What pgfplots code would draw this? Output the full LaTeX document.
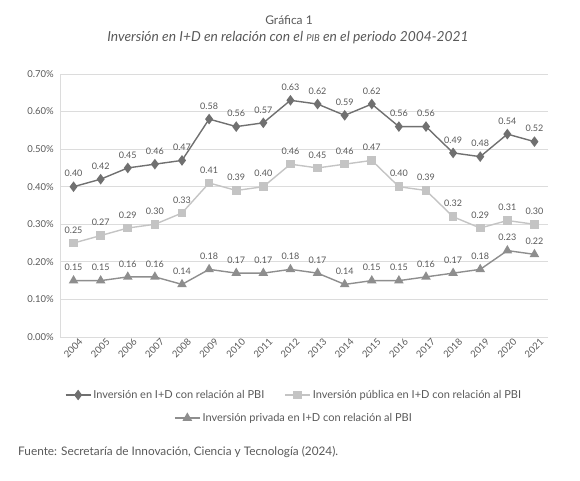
\documentclass[border=0pt]{standalone}
\usepackage{pgfplots}
\pgfplotsset{compat=1.18}
\usepackage{fontspec}
\setmainfont{Lato}
\definecolor{cTot}{HTML}{707070}
\definecolor{cPub}{HTML}{C4C4C4}
\definecolor{cPri}{HTML}{8E8E8E}
\definecolor{cTxt}{HTML}{595959}
\definecolor{cGrid}{HTML}{DCDCDC}
\begin{document}
\begin{tikzpicture}
\useasboundingbox (0,0) rectangle (580pt,481pt);
\node[font=\fontsize{12}{14}\selectfont, text=cTxt] at (289pt,461pt) {Gráfica 1};
\node[font=\fontsize{13.8}{15}\selectfont\itshape, text=cTxt] at (288pt,443pt) {Inversión en I+D en relación con el {\fontsize{9.5}{9}\selectfont PIB} en el periodo 2004-2021};
\node[font=\fontsize{11.8}{13}\selectfont, text=cTxt, anchor=west, inner sep=0pt] at (18pt,29pt) {Fuente: Secretaría de Innovación, Ciencia y Tecnología (2024).};
\pgfplotsset{
  mylegend/.style={
    legend style={draw=none, fill=none, font=\fontsize{11}{13}\selectfont, text=cTxt,
      nodes={inner xsep=2pt},
      /tikz/every even column/.append style={column sep=18pt}},
    legend image code/.code={\draw[mark repeat=2,mark phase=2] plot coordinates {(0pt,0pt)(12.5pt,0pt)(25pt,0pt)};},
  },
  totstyle/.style={color=cTot, line width=1.4pt, mark=diamond*, mark size=4.2pt, mark options={solid}},
  pubstyle/.style={color=cPub, line width=1.4pt, mark=square*, mark size=3.6pt, mark options={solid}},
  pristyle/.style={color=cPri, line width=1.4pt, mark=triangle*, mark size=4.2pt, mark options={solid}},
}
\begin{axis}[
  at={(60pt,144pt)}, anchor=south west, scale only axis,
  width=488pt, height=263pt,
  xmin=-0.5, xmax=17.5, ymin=0, ymax=0.7,
  xtick={0,...,17},
  xticklabels={2004,2005,2006,2007,2008,2009,2010,2011,2012,2013,2014,2015,2016,2017,2018,2019,2020,2021},
  ytick={0,0.1,0.2,0.3,0.4,0.5,0.6,0.7},
  yticklabel={\pgfmathprintnumber[fixed,fixed zerofill,precision=2]{\tick}\%},
  /pgf/number format/assume math mode=true,
  ymajorgrids, grid style={cGrid, line width=0.9pt},
  axis x line=bottom, axis y line=left,
  axis line style={draw=cGrid, line width=0.9pt, -},
  major tick length=0pt,
  ticklabel style={font=\fontsize{9.5}{10}\selectfont, text=cTxt},
  xticklabel style={rotate=45, anchor=north east, inner sep=1pt, yshift=-3pt, xshift=4pt},
  yticklabel style={inner sep=2pt, xshift=-4pt},
  clip=false,
  mylegend, legend columns=2,
  legend style={at={(0.4795,-0.2205)}, anchor=center},
  nodes near coords={\pgfmathprintnumber[fixed,fixed zerofill,precision=2]{\pgfplotspointmeta}},
  every node near coord/.append style={font=\fontsize{9}{10}\selectfont, text=cTxt, inner sep=0pt, anchor=south, yshift=9pt},
]
\addplot[totstyle] coordinates {
(0,0.40)(1,0.42)(2,0.45)(3,0.46)(4,0.47)(5,0.58)(6,0.56)(7,0.57)(8,0.63)
(9,0.62)(10,0.59)(11,0.62)(12,0.56)(13,0.56)(14,0.49)(15,0.48)(16,0.54)(17,0.52)};
\addlegendentry{Inversión en I+D con relación al PBI}
\addplot[pubstyle] coordinates {
(0,0.25)(1,0.27)(2,0.29)(3,0.30)(4,0.33)(5,0.41)(6,0.39)(7,0.40)(8,0.46)
(9,0.45)(10,0.46)(11,0.47)(12,0.40)(13,0.39)(14,0.32)(15,0.29)(16,0.31)(17,0.30)};
\addlegendentry{Inversión pública en I+D con relación al PBI}
\addplot[pristyle, forget plot] coordinates {
(0,0.15)(1,0.15)(2,0.16)(3,0.16)(4,0.14)(5,0.18)(6,0.17)(7,0.17)(8,0.18)
(9,0.17)(10,0.14)(11,0.15)(12,0.15)(13,0.16)(14,0.17)(15,0.18)(16,0.23)(17,0.22)};
\end{axis}
\begin{axis}[
  at={(60pt,144pt)}, anchor=south west, scale only axis,
  width=488pt, height=263pt,
  xmin=-0.5, xmax=17.5, ymin=0, ymax=0.7,
  hide axis, mylegend,
  legend style={at={(0.4795,-0.308)}, anchor=center},
]
\addplot[draw=none, forget plot] coordinates {(0,0)};
\addlegendimage{pristyle}
\addlegendentry{Inversión privada en I+D con relación al PBI}
\end{axis}
\end{tikzpicture}
\end{document}
